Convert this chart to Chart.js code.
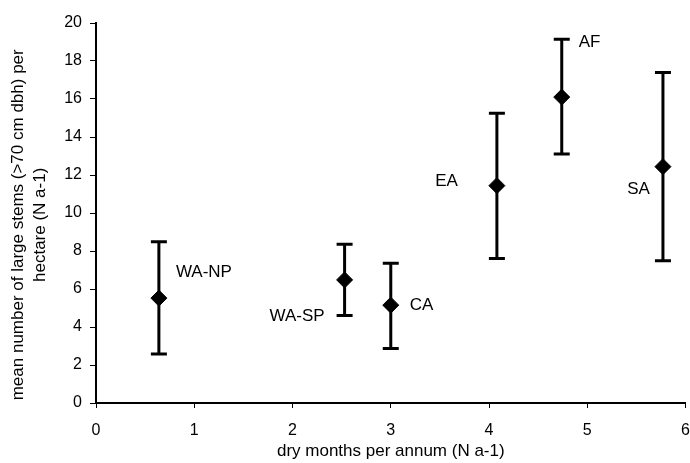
<!DOCTYPE html>
<html>
<head>
<meta charset="utf-8">
<script src="https://cdn.jsdelivr.net/npm/chart.js@4/dist/chart.umd.min.js"></script>
<style>
    html, body { margin: 0; padding: 0; background: #fff; overflow: hidden; }
    /* wider than the window: Chart.js keeps tick padding + half label free on the right */
    #wrap { width: 703px; height: 463px; }
</style>
</head>
<body>
<div id="wrap"><canvas id="chart"></canvas></div>
<script>
// values
const sites = ['WA-NP', 'WA-SP', 'CA', 'EA', 'AF', 'SA'];
const dryMonths = [0.64, 2.53, 3.0, 4.08, 4.74, 5.77];
const meanStems = [5.52, 6.48, 5.15, 11.44, 16.1, 12.44];
const upperStems = [8.49, 8.35, 7.36, 15.25, 19.15, 17.4];
const lowerStems = [2.58, 4.6, 2.87, 7.6, 13.1, 7.49];

const FONT = 'Arial, "Liberation Sans", Helvetica, sans-serif';
const INK = '#000';

// label placement next to each mean marker (px offsets, text align)
const labelPlacement = [
    { dx: 17, dy: -26, align: 'left' },
    { dx: -20, dy: 36, align: 'right' },
    { dx: 19, dy: 0, align: 'left' },
    { dx: -39, dy: -4, align: 'right' },
    { dx: 17, dy: -55, align: 'left' },
    { dx: -13, dy: 23, align: 'right' }
];

const siteLabels = {
    id: 'siteLabels',
    afterDatasetsDraw(chart) {
        const { ctx, scales: { x, y } } = chart;
        ctx.save();
        ctx.font = `17px ${FONT}`;
        ctx.fillStyle = INK;
        ctx.textBaseline = 'middle';
        sites.forEach((name, i) => {
            const p = labelPlacement[i];
            ctx.textAlign = p.align;
            ctx.fillText(name, x.getPixelForValue(dryMonths[i]) + p.dx, y.getPixelForValue(meanStems[i]) + p.dy);
        });
        ctx.restore();
    }
};

const errorBars = sites.map((name, i) => ({
    type: 'line',
    label: name + ' range',
    data: [{ x: dryMonths[i], y: lowerStems[i] }, { x: dryMonths[i], y: upperStems[i] }],
    borderColor: INK,
    borderWidth: 3,
    pointStyle: 'line',
    pointRadius: 8,
    pointBorderWidth: 3,
    pointBorderColor: INK,
    fill: false,
    showLine: true
}));

new Chart(document.getElementById('chart'), {
    type: 'scatter',
    data: {
        datasets: [
            ...errorBars,
            {
                type: 'scatter',
                label: 'mean',
                data: sites.map((_, i) => ({ x: dryMonths[i], y: meanStems[i] })),
                pointStyle: 'rectRot',
                pointRadius: 8,
                backgroundColor: INK,
                borderColor: INK,
                borderWidth: 1
            }
        ]
    },
    options: {
        responsive: true,
        maintainAspectRatio: false,
        animation: false,
        layout: { padding: { top: 23, right: 0, left: 0, bottom: 0 } },
        plugins: { legend: { display: false }, tooltip: { enabled: false } },
        scales: {
            x: {
                type: 'linear',
                min: 0,
                max: 6,
                afterFit: s => { s.height = 60; },
                border: { color: INK, width: 2 },
                grid: { drawOnChartArea: false, tickLength: 5, tickColor: INK, tickWidth: 1 },
                ticks: { stepSize: 1, color: INK, padding: 13, font: { family: FONT, size: 16 } },
                title: {
                    display: true,
                    text: 'dry months per annum (N a-1)',
                    color: INK,
                    font: { family: FONT, size: 17 },
                    padding: { top: 0, bottom: 1 }
                }
            },
            y: {
                type: 'linear',
                min: 0,
                max: 20,
                afterFit: s => { s.width = 96; },
                border: { color: INK, width: 2 },
                grid: { drawOnChartArea: false, tickLength: 6, tickColor: INK, tickWidth: 1 },
                ticks: { stepSize: 2, color: INK, padding: 8, font: { family: FONT, size: 16 } },
                title: {
                    display: true,
                    // trailing spaces nudge the centred title a little lower, as in the figure
                    text: ['mean number of large stems (>70 cm dbh) per     ', 'hectare (N a-1)     '],
                    color: INK,
                    font: { family: FONT, size: 17, lineHeight: 1.3 },
                    padding: { top: 7, bottom: 0 }
                }
            }
        }
    },
    plugins: [siteLabels]
});
</script>
</body>
</html>
